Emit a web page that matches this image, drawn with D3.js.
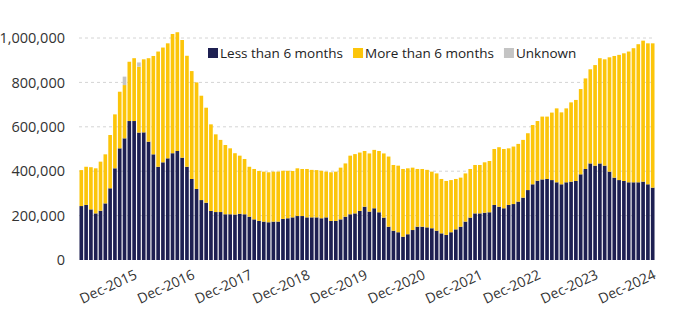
<!DOCTYPE html>
<html>
<head>
<meta charset="utf-8">
<script src="https://cdn.jsdelivr.net/npm/d3@7"></script>
<style>
  html, body { margin: 0; padding: 0; background: #fff; }
  svg { display: block; font-family: "Open Sans", sans-serif; }
</style>
</head>
<body>
<svg id="chart" width="679" height="322"></svg>
<script>
// Monthly, Jan 2015 .. Dec 2024
const months = d3.range(120).map(i => {
  const y = 2015 + Math.floor(i / 12), m = i % 12;
  return new Date(y, m, 1);
});
// values in thousands
const lessThan6 = [243,248,228,210,222,255,323,413,503,548,626,626,
  574,575,533,476,420,440,458,481,491,461,420,365,
  320,270,258,221,216,216,206,206,205,208,206,195,
  183,176,173,170,173,173,185,188,192,198,198,192,
  192,192,188,192,176,176,183,195,206,210,221,240,
  218,233,215,191,150,132,125,105,116,135,150,150,
  147,143,132,120,113,125,138,150,173,191,210,210,
  213,215,248,240,233,248,252,263,281,315,341,357,
  363,365,360,350,341,350,353,356,386,410,435,425,
  435,425,398,371,360,356,350,350,350,353,341,326];
const moreThan6 = [162,172,190,203,221,221,240,243,255,240,267,283,
  297,329,376,443,519,517,518,537,535,530,500,486,
  480,470,428,390,350,325,312,297,276,262,249,225,
  227,225,225,225,225,225,217,214,209,215,212,218,
  214,213,214,206,219,222,233,240,264,267,263,251,
  262,263,276,289,316,296,300,305,297,281,260,260,
  259,255,258,245,243,235,227,221,217,219,218,218,
  227,231,252,268,267,255,259,260,260,256,267,269,
  283,281,304,333,324,333,357,365,384,408,424,453,
  474,479,515,548,564,575,589,604,622,635,635,650];
const unknown = [0,0,0,0,0,0,0,0,0,38,0,0,
  19,0,0,0,0,0,0,0,0,0,0,0,
  0,0,0,0,0,0,0,0,0,0,0,0,
  0,0,0,0,0,0,0,0,0,0,0,0,
  0,0,0,0,0,0,0,0,0,0,0,0,
  0,0,0,0,0,0,0,0,0,0,0,0,
  0,0,0,0,0,0,0,0,0,0,0,0,
  0,0,0,0,0,0,0,0,0,0,0,0,
  0,0,0,0,0,0,0,0,0,0,0,0,
  0,0,0,0,0,0,0,0,0,0,0,0];
const seriesNames = ["Less than 6 months", "More than 6 months", "Unknown"];
const yTicks = [0, 200000, 400000, 600000, 800000, 1000000];
const tickMonths = months.filter(d => d.getMonth() === 11);

const colors = ["#1e2052", "#fcc50a", "#c4c4c4"];

const table = months.map((d, i) => ({
  date: d,
  "Less than 6 months": lessThan6[i] * 1000,
  "More than 6 months": moreThan6[i] * 1000,
  "Unknown": unknown[i] * 1000
}));

const svg = d3.select("#chart");
const margin = { left: 79, right: 24, top: 38, bottom: 62 };
const W = 679, H = 322;

const x = d3.scaleBand()
  .domain(months.map(d => +d))
  .range([margin.left, W - margin.right])
  .paddingInner(0.24)
  .paddingOuter(0.1);
const y = d3.scaleLinear().domain([0, 1000000]).range([260, 38]);

// gridlines
svg.append("g").selectAll("line")
  .data(yTicks.filter(d => d > 0))
  .join("line")
  .attr("x1", margin.left).attr("x2", W - margin.right)
  .attr("y1", d => y(d)).attr("y2", d => y(d))
  .attr("stroke", "#d4d4d4").attr("stroke-width", 1)
  .attr("stroke-dasharray", "3,3");

// y axis
const yAxis = d3.axisLeft(y).tickValues(yTicks).tickSize(0).tickPadding(0)
  .tickFormat(d3.format(","));
svg.append("g").attr("transform", "translate(65,0)").call(yAxis)
  .call(g => g.select(".domain").remove())
  .call(g => g.selectAll("text").attr("fill", "#333").style("font-size", "14.5px")
    .style("font-family", "'Open Sans', sans-serif"));

// bars
const stack = d3.stack().keys(seriesNames)(table);
svg.append("g").selectAll("g")
  .data(stack).join("g")
  .attr("fill", (d, i) => colors[i])
  .selectAll("rect")
  .data(d => d).join("rect")
  .attr("x", d => x(+d.data.date))
  .attr("width", x.bandwidth())
  .attr("y", d => y(d[1]))
  .attr("height", d => Math.max(0, y(d[0]) - y(d[1])));

// x axis labels
const fmt = d3.timeFormat("%b-%Y");
const xAxis = d3.axisBottom(x).tickValues(tickMonths.map(d => +d)).tickSize(0).tickPadding(0)
  .tickFormat(d => fmt(new Date(d)));
svg.append("g").attr("transform", "translate(0,260)").call(xAxis)
  .call(g => g.select(".domain").remove())
  .call(g => g.selectAll("text")
    .attr("fill", "#333")
    .style("font-size", "14px")
    .style("font-family", "'Open Sans', sans-serif")
    .attr("text-anchor", "end")
    .attr("dy", 0)
    .attr("y", 0)
    .attr("transform", "translate(4,18) rotate(-25)"));

// legend
const leg = svg.append("g").attr("transform", "translate(208,53)");
let lx = 0;
seriesNames.forEach((n, i) => {
  const g = leg.append("g").attr("transform", `translate(${lx},0)`);
  g.append("rect").attr("x", 0).attr("y", -5).attr("width", 10).attr("height", 10).attr("fill", colors[i]);
  const t = g.append("text").attr("x", 12).attr("y", 5).text(n)
    .attr("fill", "#222").style("font-size", "13.5px");
  lx += 12 + t.node().getComputedTextLength() + 10;
});
</script>
</body>
</html>
